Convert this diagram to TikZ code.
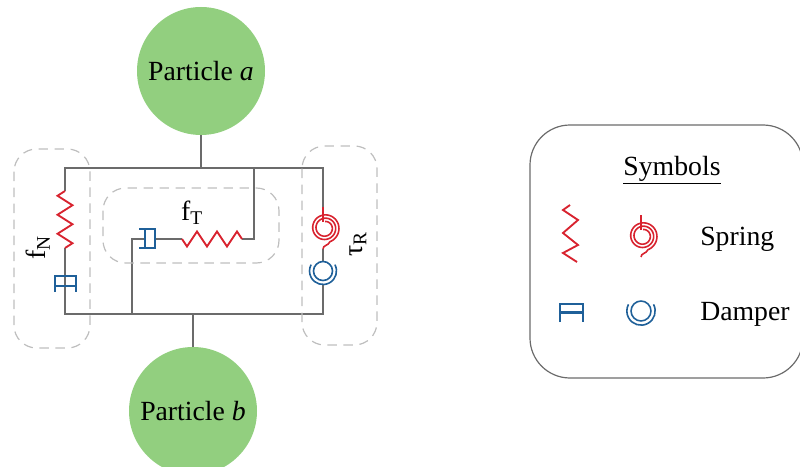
\documentclass[tikz,border=0pt]{standalone}
\usepackage{fontspec}
\setmainfont{Liberation Serif}
\usetikzlibrary{decorations.pathmorphing}

\definecolor{partgreen}{HTML}{92CF7F}
\definecolor{springred}{HTML}{D8232F}
\definecolor{damperblue}{HTML}{1F6099}
\definecolor{wiregray}{HTML}{6B6B6B}
\definecolor{groupgray}{HTML}{BEBEBE}

\begin{document}
\begin{tikzpicture}
        [x=0.75pt, y=-0.75pt,
        particle/.style={circle, fill=partgreen, minimum size=96pt, inner sep=0pt, font=\fontsize{20.8}{24}\selectfont},
        wire/.style={wiregray, line width=1.8pt},
        spring/.style={springred, line width=1.4pt, line join=miter},
        zig/.style={spring, decorate, decoration={zigzag, mirror, segment length=#1, amplitude=5.6pt}},
        damper/.style={damperblue, line width=1.8pt},
        group/.style={groupgray, line width=0.9pt, dash pattern=on 7pt off 5pt, rounded corners=17pt},
        label/.style={inner sep=0pt, font=\fontsize{20.8}{24}\selectfont},
        spiralspring/.pic={
            \draw[springred, line width=1.2pt] plot[smooth, domain=0:880, samples=120]
                ({(6.5+0.0092*\x)*cos(\x-90)}, {(6.5+0.0092*\x)*sin(\x-90)})
                .. controls (3,18) and (-2,17) .. (-2,21);
            \draw[springred, line width=1.2pt] (-2,-6) -- (-2,-21);
        },
        spiraldamper/.pic={
            \draw[damperblue, line width=1.2pt] (0,0) circle (9.5);
            \draw[damperblue, line width=1.2pt] (-28:13.5) arc (-28:208:13.5);
        }]

        \useasboundingbox (0,0) rectangle (800,467);

        \node[particle] (pa) at (201,71) {Particle \textit{a}};
        \node[particle] (pb) at (193,411) {Particle \textit{b}};

        % frame corners and junctions
        \coordinate (tl) at (65,168);
        \coordinate (tr) at (323,168);
        \coordinate (bl) at (65,314);
        \coordinate (br) at (323,314);
        \coordinate (ta) at (201,168);
        \coordinate (bb) at (193,314);
        \coordinate (tt) at (254,168);
        \coordinate (bt) at (132,314);

        \draw[wire] (pa.south) -- (ta);
        \draw[wire] (pb.north) -- (bb);
        \draw[wire, line cap=rect] (tl) -- (tr);
        \draw[wire, line cap=rect] (bl) -- (br);

        % normal branch
        \coordinate (sN1) at (65,191);
        \coordinate (sN2) at (65,248);
        \coordinate (dN) at (65,286);
        \draw[wire] (tl) -- (sN1);
        \draw[wire] (sN2) -- (dN);
        \draw[wire] (dN) -- (bl);
        \draw[zig=19pt*0.75] (sN1) -- (sN2);
        \draw[damper] (55,292) -- (55,276) -- (76,276) -- (76,292);
        \draw[damper] (55,286) -- (76,286);

        % tangential branch
        \coordinate (cT) at (132,239);
        \coordinate (dT) at (155,239);
        \coordinate (sT1) at (182,239);
        \coordinate (sT2) at (242,239);
        \coordinate (eT) at (254,239);
        \draw[wire] (bt) -- (cT);
        \draw[wire, line cap=rect] (cT) -- (145,239);
        \draw[wire] (dT) -- (sT1);
        \draw[wire] (sT2) -- (eT);
        \draw[wire, line cap=rect] (eT) -- (tt);
        \draw[zig=20pt*0.75] (sT1) -- (sT2);
        \draw[damper] (139,229) -- (155,229) -- (155,248) -- (139,248);
        \draw[damper] (145,229) -- (145,248);

        % rolling branch
        \coordinate (sR1) at (323,207);
        \coordinate (sR2) at (323,249);
        \coordinate (dR1) at (323,262);
        \coordinate (dR2) at (323,284);
        \draw[wire] (tr) -- (sR1);
        \draw[wire] (sR2) -- (dR1);
        \draw[wire] (dR2) -- (br);
        \pic at (325,228) {spiralspring};
        \pic at (323,271) {spiraldamper};

        % dashed groups
        \draw[group] (14,149) rectangle (90,348);
        \draw[group] (103,188) rectangle (279,263);
        \draw[group] (302,146) rectangle (377,345);

        \node[label, rotate=90] (fN) at (38,248) {f\textsubscript{N}};
        \node[label] (fT) at (192,213) {f\textsubscript{T}};
        \node[label, rotate=90] (tR) at (358,244) {τ\textsubscript{R}};

        % legend
        \draw[wiregray, line width=0.9pt, rounded corners=30pt] (530,125) rectangle (803,378);
        \node[label] (title) at (672,170) {\underline{Symbols}};
        \node[label, anchor=west] (lspring) at (700,239) {Spring};
        \node[label, anchor=west] (ldamper) at (700,314) {Damper};

        \draw[spring] (570,205) -- (563,210) -- (578,220) -- (563,233) -- (578,245) -- (563,253) -- (577,262);
        \pic at (643,236) {spiralspring};
        \draw[damper] (560,322) -- (560,304) -- (583,304) -- (583,322);
        \draw[damper] (560,312.5) -- (583,312.5);
        \pic[scale=1.05] at (641,311) {spiraldamper};
\end{tikzpicture}
\end{document}
